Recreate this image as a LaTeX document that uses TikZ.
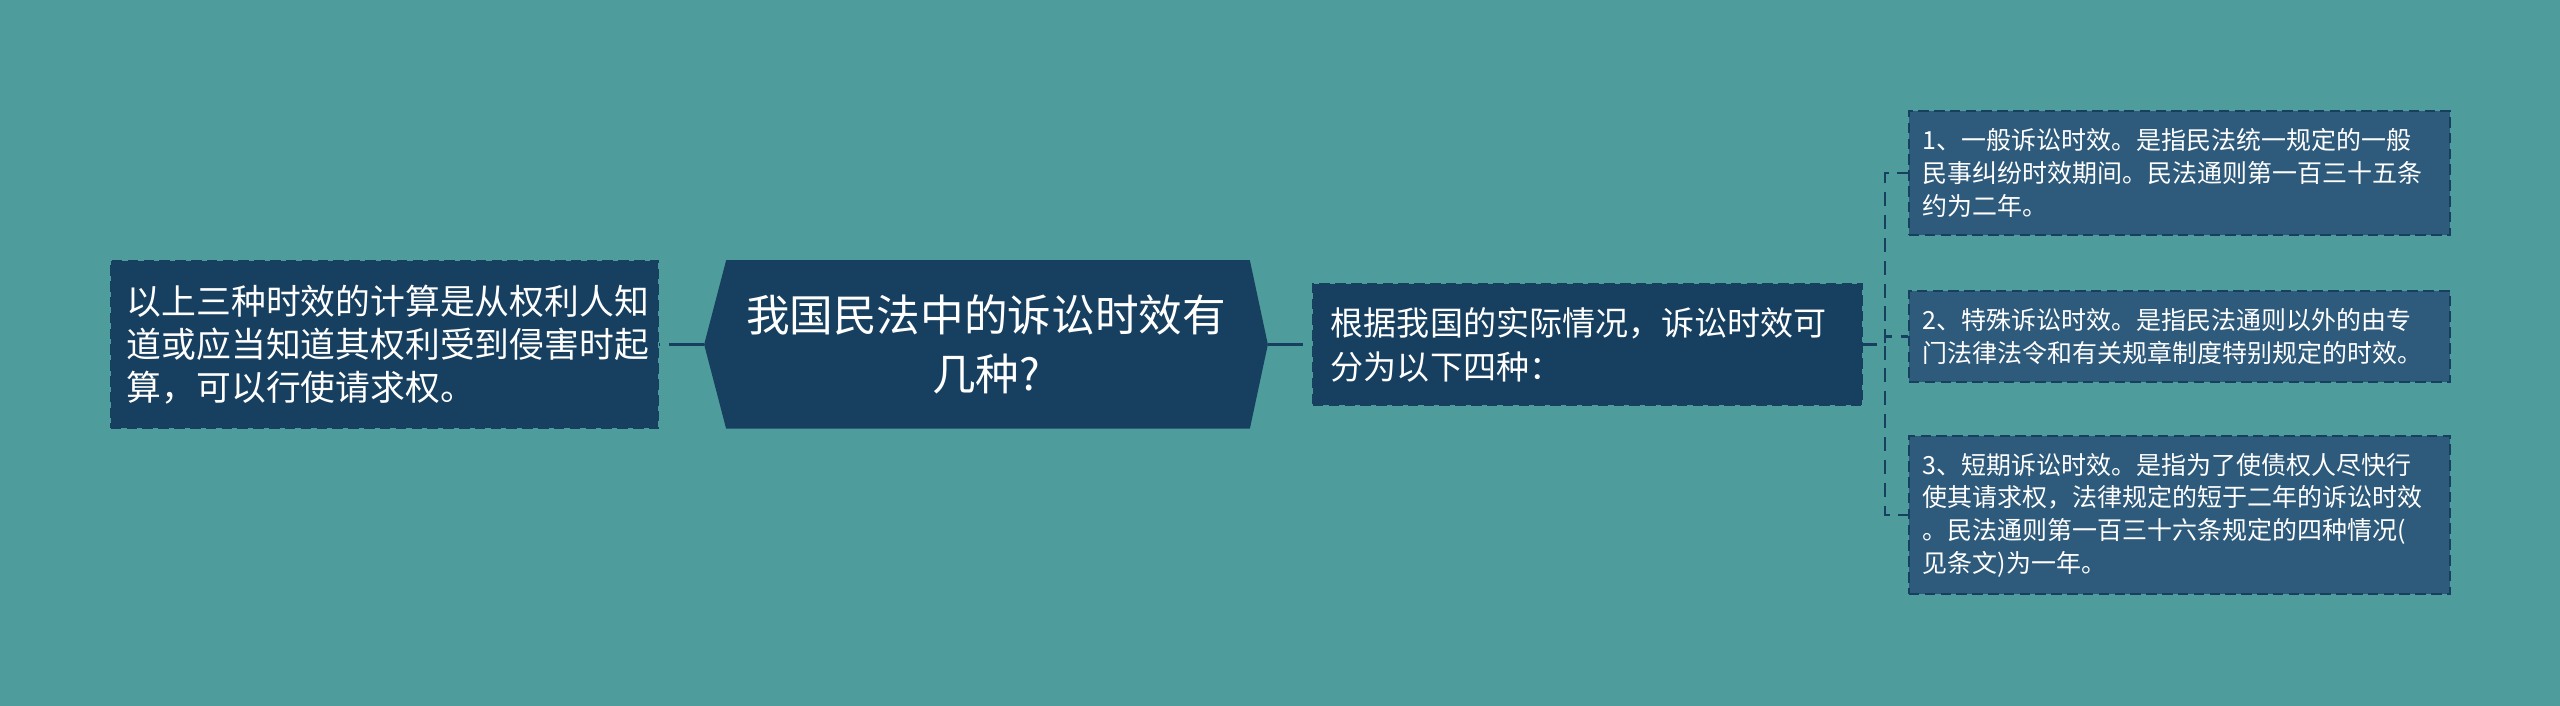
\documentclass[tikz,border=0pt]{standalone}
\usepackage{fontspec}
\setmainfont{Noto Sans CJK SC}
\usetikzlibrary{backgrounds}

\definecolor{bgteal}{HTML}{4E9C9C}
\definecolor{navy}{HTML}{173F5F}
\definecolor{leafblue}{HTML}{2E5A7B}
\definecolor{edgeline}{HTML}{173F5F}

\tikzset{
  topicbox/.style={fill=navy, draw=navy, line width=0.6pt, dashed, dash pattern=on 3pt off 1.5pt,
    text=white, align=left, inner xsep=0.16cm, inner ysep=0pt,
    font=\fontsize{9.9pt}{12.2pt}\selectfont},
  leafbox/.style={fill=leafblue, draw=edgeline, line width=0.6pt, dashed, dash pattern=on 3pt off 1.5pt,
    text=white, align=left, inner xsep=0.14cm, inner ysep=0pt, text width=5.13cm, minimum width=5.41cm,
    font=\fontsize{7.1pt}{9.3pt}\selectfont},
  link/.style={edgeline, line width=0.8pt, dash pattern=on 10pt off 2.5pt},
  branch/.style={edgeline, line width=0.7pt, dash pattern=on 4pt off 2.5pt}
}

\begin{document}
\begin{tikzpicture}[x=0.01cm, y=0.01cm]
        \useasboundingbox (0,0) rectangle (2560,706);
        \begin{scope}[on background layer]
            \fill[bgteal] (0,0) rectangle (2560,706);
        \end{scope}

        % Root
        \node[text=white, align=center, minimum width=5.62cm, minimum height=1.67cm, inner sep=0pt,
              font=\fontsize{12.4pt}{16.7pt}\selectfont] (main) at (986,361.5) {我国民法中的诉讼时效有\\几种?};
        \begin{scope}[on background layer]
            \fill[navy] ([xshift=0.22cm]main.north west) -- ([xshift=-0.18cm]main.north east) -- (main.east)
                -- ([xshift=-0.18cm]main.south east) -- ([xshift=0.22cm]main.south west) -- (main.west) -- cycle;
        \end{scope}

        % Left and middle
        \node[style=topicbox, text width=5.15cm, minimum width=5.47cm, minimum height=1.67cm] (calc) at (384.5,361.5)
            {以上三种时效的计算是从权利人知\\道或应当知道其权利受到侵害时起\\算，可以行使请求权。};
        \node[style=topicbox, text width=5.13cm, minimum width=5.49cm, minimum height=1.21cm,
              font=\fontsize{9.4pt}{12.5pt}\selectfont] (kinds) at (1587.5,361.5)
            {根据我国的实际情况，诉讼时效可\\分为以下四种：};

        % Leaves
        \node[style=leafbox, minimum height=1.24cm] (general) at (2179.5,533)
            {1、一般诉讼时效。是指民法统一规定的一般\\民事纠纷时效期间。民法通则第一百三十五条\\约为二年。};
        \node[style=leafbox, minimum height=0.91cm] (special) at (2179.5,369.5)
            {2、特殊诉讼时效。是指民法通则以外的由专\\门法律法令和有关规章制度特别规定的时效。};
        \node[style=leafbox, minimum height=1.58cm] (short) at (2179.5,191)
            {3、短期诉讼时效。是指为了使债权人尽快行\\使其请求权，法律规定的短于二年的诉讼时效\\。民法通则第一百三十六条规定的四种情况(\\见条文)为一年。};

        \draw[style=link] (main.west) -- (calc.east);
        \draw[style=link] (main.east) -- (kinds.west);

        \coordinate (fork) at (1885,361.5);
        \draw[style=branch] (kinds.east) -- (fork) |- (general.west);
        \draw[style=branch] (kinds.east) -- (fork) |- (special.west);
        \draw[style=branch] (kinds.east) -- (fork) |- (short.west);
    \end{tikzpicture}
\end{document}
